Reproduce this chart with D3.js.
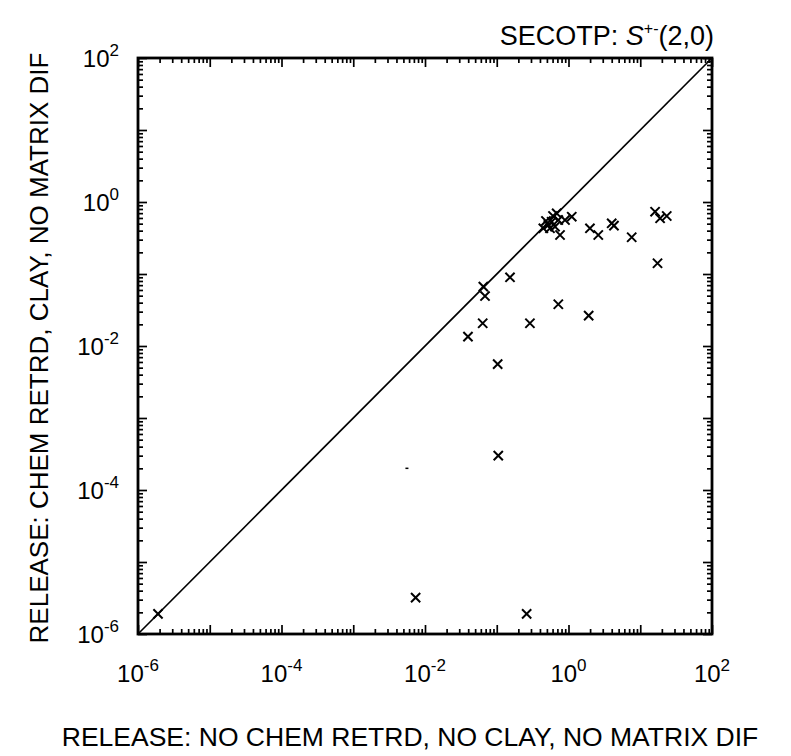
<!DOCTYPE html>
<html><head><meta charset="utf-8">
<script src="https://cdn.jsdelivr.net/npm/d3@7"></script>
<style>
body{margin:0;background:#fff;}
text{font-family:"Liberation Sans",Arial,Helvetica,sans-serif;fill:#000;}
</style></head>
<body><svg id="c" width="791" height="756"></svg>
<script>
// x: release without chem retardation/clay/matrix diffusion; y: with chem retardation & clay
const xValues = [1.9e-6, 7.4e-3, 0.261, 0.105, 0.103, 0.0397, 0.0637, 0.065, 0.0686, 0.153, 0.290, 0.721, 1.91, 17.4,
  0.446, 0.523, 0.583, 0.649, 0.552, 0.684, 0.721, 0.762, 0.894, 1.11, 1.99, 2.60, 4.00, 4.30, 7.60, 16.1, 18.9, 23.4, 0.485, 0.608];
const yValues = [1.9e-6, 3.2e-6, 1.9e-6, 3.0e-4, 5.6e-3, 0.0135, 0.0207, 0.0667, 0.0494, 0.090, 0.0207, 0.038, 0.0264, 0.141,
  0.431, 0.480, 0.532, 0.454, 0.431, 0.697, 0.562, 0.348, 0.562, 0.625, 0.431, 0.348, 0.506, 0.469, 0.324, 0.733, 0.594, 0.639, 0.545, 0.640];
const strayX = [5.6e-3];
const strayY = [2.0e-4];
const decadeExponents = [-6, -4, -2, 0, 2];
const titleMain = "SECOTP:  ";
const xTitle = "RELEASE:  NO CHEM RETRD, NO CLAY, NO MATRIX DIF";
const yTitle = "RELEASE:  CHEM RETRD, CLAY, NO MATRIX DIF";

const svg = d3.select("#c");
const L = 138, R = 712, T = 58, B = 634;
const x = d3.scaleLog().domain([1e-6, 1e2]).range([L, R]);
const y = d3.scaleLog().domain([1e-6, 1e2]).range([B, T]);

const majors = d3.range(-6, 3).map(e => Math.pow(10, e));
const minors = [];
for (let e = -6; e < 2; e++) for (let m = 2; m <= 9; m++) minors.push(m * Math.pow(10, e));

function ticks(axisFn, scale, vals, len, tx, ty) {
  const g = svg.append("g").attr("transform", `translate(${tx},${ty})`)
    .call(axisFn(scale).tickValues(vals).tickSize(len).tickSizeOuter(0).tickFormat(""));
  g.select(".domain").remove();
  g.selectAll("line").attr("stroke", "#000").attr("stroke-width", 1.7);
}
// inward ticks on all four sides
[[majors, -9], [minors, -5]].forEach(([v, len]) => {
  ticks(d3.axisBottom, x, v, len, 0, B);
  ticks(d3.axisTop, x, v, len, 0, T);
  ticks(d3.axisLeft, y, v, len, L, 0);
  ticks(d3.axisRight, y, v, len, R, 0);
});

svg.append("rect").attr("x", L).attr("y", T).attr("width", R - L).attr("height", B - T)
  .attr("fill", "none").attr("stroke", "#000").attr("stroke-width", 2.8);

// diagonal y = x
svg.append("line").attr("x1", x(1e-6)).attr("y1", y(1e-6)).attr("x2", x(1e2)).attr("y2", y(1e2))
  .attr("stroke", "#000").attr("stroke-width", 1.7);

// tick labels
function pow10(sel, e) {
  sel.append("tspan").text("10");
  sel.append("tspan").attr("dy", -11).attr("font-size", 17).text(e === 0 ? "0" : (e < 0 ? "-" + (-e) : String(e)));
}
decadeExponents.forEach(e => {
  const v = Math.pow(10, e);
  svg.append("text").attr("x", x(v)).attr("y", 682).attr("text-anchor", "middle")
    .attr("font-size", 24).call(pow10, e);
  svg.append("text").attr("x", 119).attr("y", y(v) + 8.5).attr("text-anchor", "end")
    .attr("font-size", 24).call(pow10, e);
});

// points
const pts = xValues.map((d, i) => [d, yValues[i]]);
const s = 4.6;
svg.append("g").selectAll("path").data(pts).join("path")
  .attr("d", d => { const px = x(d[0]), py = y(d[1]);
    return `M${px - s},${py - s}L${px + s},${py + s}M${px - s},${py + s}L${px + s},${py - s}`; })
  .attr("stroke", "#000").attr("stroke-width", 2).attr("fill", "none");
// stray partial mark
svg.append("g").selectAll("path").data(strayX.map((d, i) => [d, strayY[i]])).join("path")
  .attr("d", d => `M${x(d[0]) - 1.5},${y(d[1])}L${x(d[0]) + 1.5},${y(d[1])}`)
  .attr("stroke", "#000").attr("stroke-width", 1.5);

// title
const t = svg.append("text").attr("x", 714).attr("y", 45).attr("text-anchor", "end").attr("font-size", 27);
t.append("tspan").text(titleMain);
t.append("tspan").attr("font-style", "italic").text("S");
t.append("tspan").attr("dy", -11).attr("font-size", 16).text("+-");
t.append("tspan").attr("dy", 11).text("(2,0)");

svg.append("text").attr("x", 410).attr("y", 746).attr("text-anchor", "middle").attr("font-size", 26.5).text(xTitle);
svg.append("text").attr("transform", "translate(48,348) rotate(-90)").attr("text-anchor", "middle")
  .attr("font-size", 26).text(yTitle);
</script></body></html>
